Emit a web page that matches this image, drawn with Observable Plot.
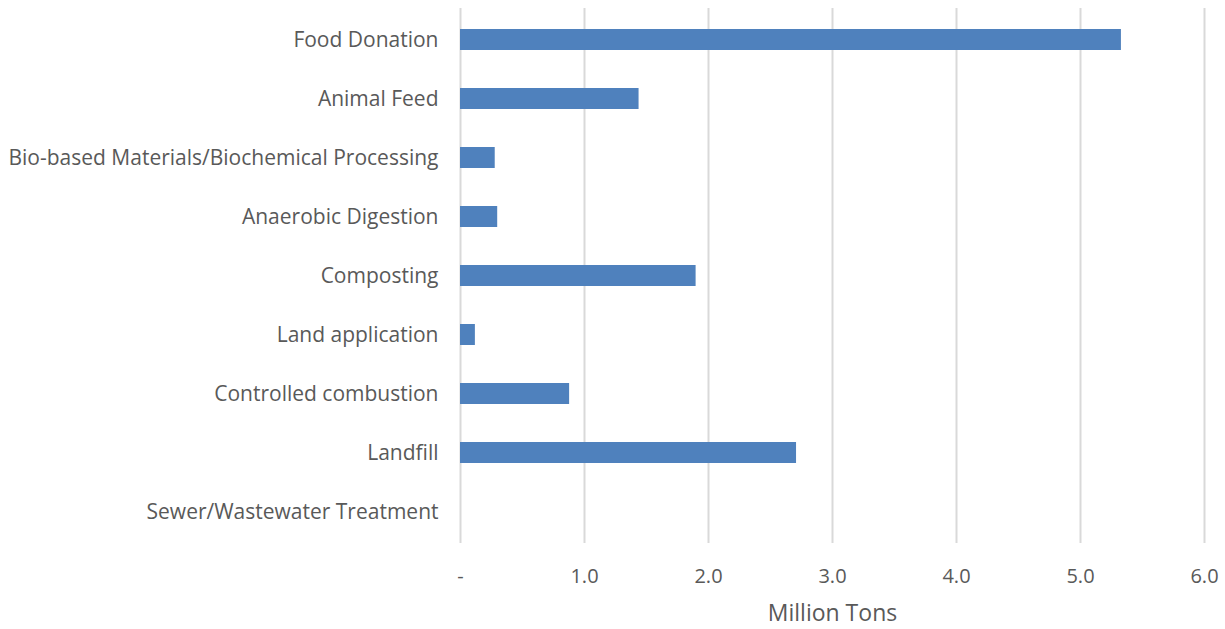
<!DOCTYPE html>
<html>
<head>
<meta charset="utf-8">
<script src="https://cdn.jsdelivr.net/npm/d3@7"></script>
<script src="https://cdn.jsdelivr.net/npm/@observablehq/plot@0.6"></script>
<style>
  html, body { margin: 0; padding: 0; background: #fff; }
  #chart svg { display: block; }
</style>
</head>
<body>
<div id="chart"></div>
<script>
const categories = [
  "Food Donation",
  "Animal Feed",
  "Bio-based Materials/Biochemical Processing",
  "Anaerobic Digestion",
  "Composting",
  "Land application",
  "Controlled combustion",
  "Landfill",
  "Sewer/Wastewater Treatment"
];
const values = [5.33, 1.44, 0.28, 0.30, 1.90, 0.12, 0.88, 2.71, 0];
const xTicks = [0, 1, 2, 3, 4, 5, 6];
const axisTitle = "Million Tons";

const data = categories.map((c, i) => ({category: c, value: values[i]}));

const chart = Plot.plot({
  width: 1225,
  height: 629,
  marginLeft: 460,
  marginRight: 21,
  marginTop: 8,
  marginBottom: 86,
  style: {fontFamily: "'Open Sans', sans-serif", fontSize: "20px", color: "#595959", background: "#fff"},
  x: {domain: [0, 6]},
  y: {domain: categories, paddingInner: 0.645, paddingOuter: 0.3225},
  marks: [
    Plot.gridX(xTicks, {stroke: "#d9d9d9", strokeOpacity: 1, strokeWidth: 2}),
    Plot.barX(data, {x: "value", y: "category", fill: "#4f81bd"}),
    Plot.axisY({tickSize: 0, tickPadding: 22, label: null, fontSize: 21, fill: "#595959"}),
    Plot.axisX(xTicks, {
      tickSize: 0, tickPadding: 25, fontSize: 20, fill: "#595959",
      tickFormat: d => d === 0 ? "-" : d.toFixed(1),
      label: null
    }),
    Plot.text([axisTitle], {frameAnchor: "bottom", dy: 77, fontSize: 23, fill: "#595959"})
  ]
});
document.getElementById("chart").appendChild(chart);
</script>
</body>
</html>
